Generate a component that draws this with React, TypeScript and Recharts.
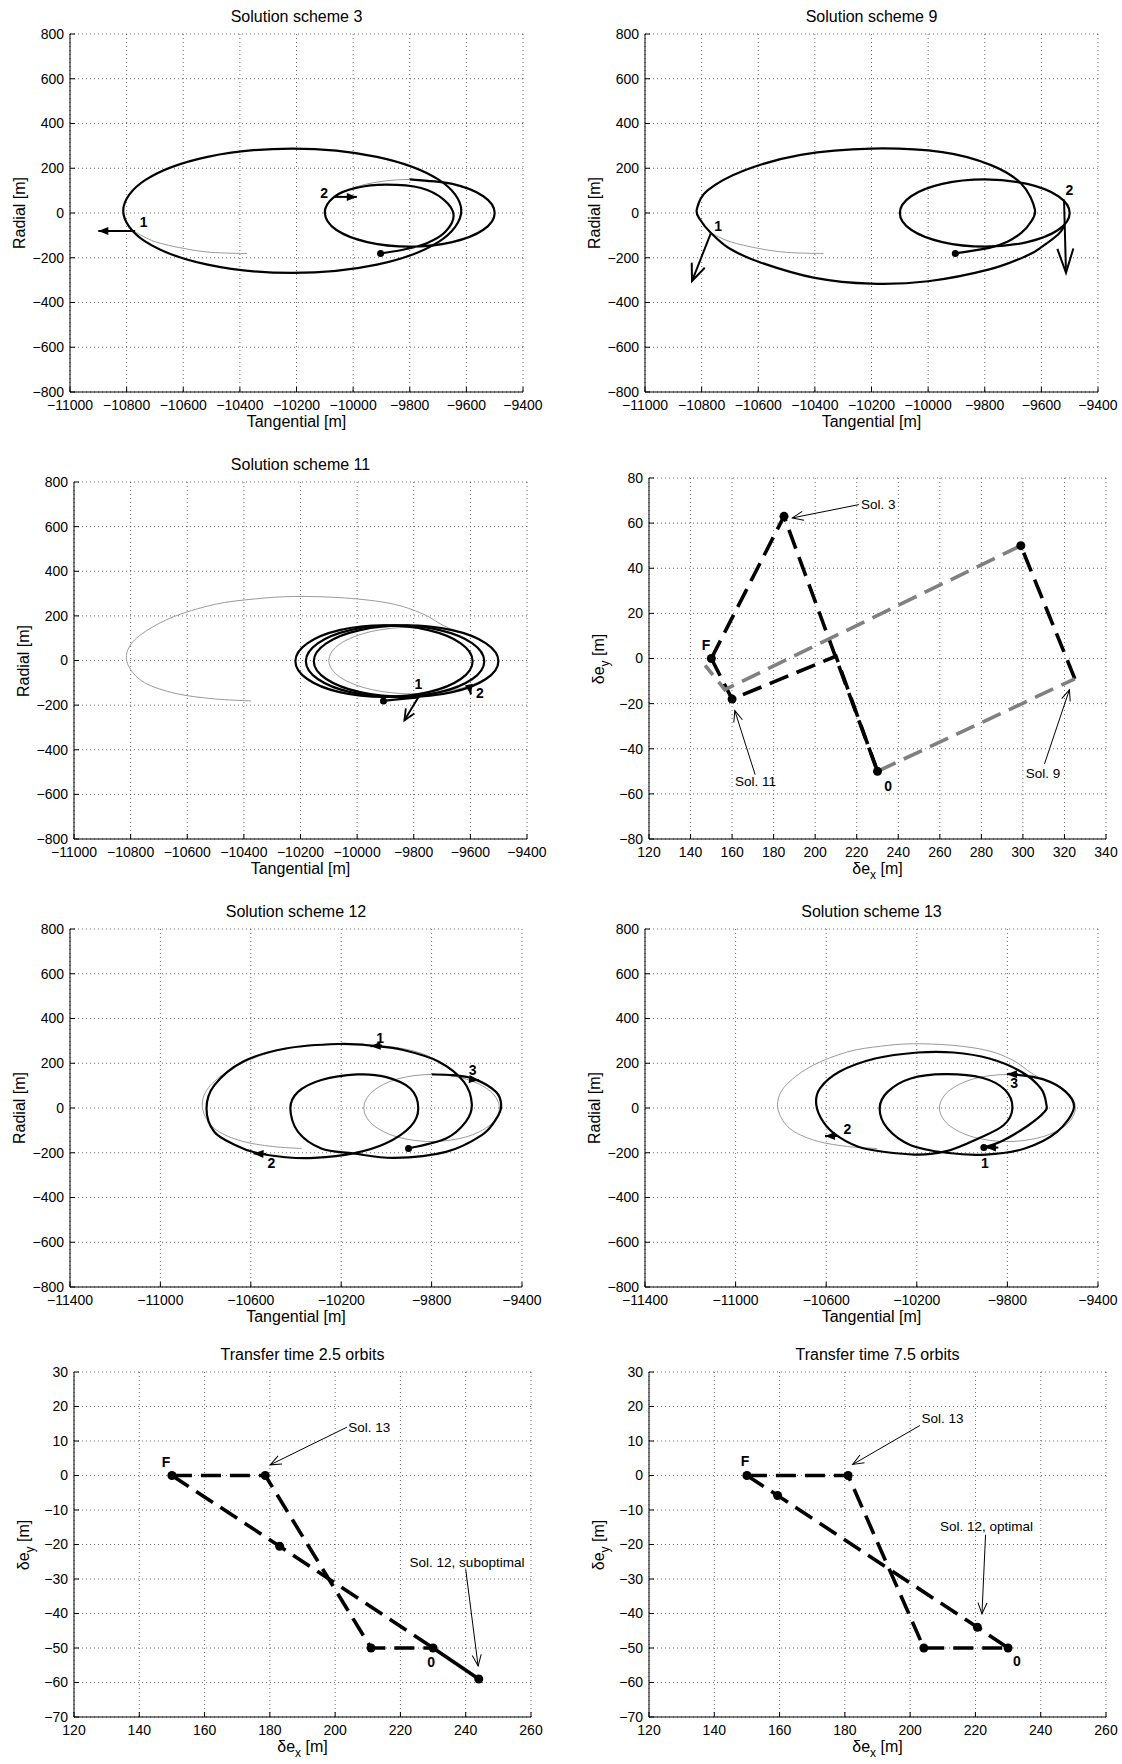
import React from 'react';
import { ComposedChart, Line, Scatter, XAxis, YAxis, CartesianGrid, ReferenceLine } from 'recharts';

type Pt = [number, number];

// ---------- axis ticks ----------
const TAN_TICKS_A = [-11000, -10800, -10600, -10400, -10200, -10000, -9800, -9600, -9400];
const TAN_TICKS_B = [-11400, -11000, -10600, -10200, -9800, -9400];
const RAD_TICKS = [-800, -600, -400, -200, 0, 200, 400, 600, 800];
const DEX_TICKS_A = [120, 140, 160, 180, 200, 220, 240, 260, 280, 300, 320, 340];
const DEY_TICKS_A = [-80, -60, -40, -20, 0, 20, 40, 60, 80];
const DEX_TICKS_B = [120, 140, 160, 180, 200, 220, 240, 260];
const DEY_TICKS_B = [-70, -60, -50, -40, -30, -20, -10, 0, 10, 20, 30];

// ---------- shared reference trajectories ----------
const TARGET_ELLIPSE: Pt[] = [[-9500, 0], [-9540, -75], [-9650, -130], [-9800, -150], [-9950, -130], [-10060, -75], [-10100, 0], [-10060, 75], [-9950, 130], [-9800, 150], [-9650, 130], [-9540, 75]];
const GRAY_BIG: Pt[] = [[-10375, -181], [-10505, -172], [-10640, -148], [-10750, -100], [-10805, -30], [-10812, 40], [-10770, 110], [-10660, 190], [-10505, 251], [-10360, 276], [-10220, 287], [-10040, 280], [-9880, 255], [-9770, 210], [-9700, 160], [-9650, 130]];

// ---------- Solution scheme 3 ----------
const P1_GRAY_ARC: Pt[] = [[-10770, -85], [-10700, -128], [-10600, -158], [-10500, -176], [-10375, -181]];
const P1_BIG_LOOP: Pt[] = [[-9618, 10], [-9698, 149], [-9916, 251], [-10215, 288], [-10514, 251], [-10732, 149], [-10812, 10], [-10732, -129], [-10514, -231], [-10215, -268], [-9916, -231], [-9698, -129]];
const P1_FINAL: Pt[] = [[-9800, 150], [-9650, 130], [-9540, 75], [-9500, 0], [-9540, -75], [-9650, -130], [-9800, -150], [-9950, -130], [-10060, -75], [-10100, 0], [-10067, 72], [-9990, 112], [-9884, 127], [-9760, 112], [-9680, 60], [-9645, -10], [-9675, -85], [-9740, -135], [-9820, -163], [-9903, -181]];
const P1_ARROWS: Pt[][] = [[[-10770, -80], [-10900, -80]], [[-10067, 72], [-9987, 72]]];
const P1_DOTS: Pt[] = [[-9903, -181]];
const P1_LABELS = [{ x: -10740, y: -41, t: '1' }, { x: -10102, y: 90, t: '2' }];

// ---------- Solution scheme 9 ----------
const P2_GRAY_ARC: Pt[] = [[-10767, -89], [-10700, -128], [-10600, -158], [-10500, -176], [-10370, -181]];
const P2_BIG: Pt[] = [[-9520, -59], [-9540, -95], [-9595, -148], [-9650, -190], [-9784, -252], [-10000, -305], [-10200, -316], [-10400, -290], [-10590, -222], [-10700, -160], [-10767, -89], [-10805, -30], [-10817, 16], [-10780, 100], [-10650, 190], [-10450, 260], [-10200, 288], [-9950, 272], [-9780, 215], [-9670, 130], [-9623, 16], [-9640, -45], [-9671, -89], [-9720, -128], [-9784, -156], [-9904, -181]];
const P2_ARROWS: Pt[][] = [[[-10767, -89], [-10834, -304]], [[-9520, 60], [-9513, -267]]];
const P2_DOTS: Pt[] = [[-9904, -181]];
const P2_LABELS = [{ x: -10742, y: -60, t: '1' }, { x: -9501, y: 102, t: '2' }];

// ---------- Solution scheme 11 ----------
const P3_LOOP_A: Pt[] = [[-9592, -3], [-9634, 77], [-9748, 136], [-9905, 157], [-10062, 136], [-10176, 77], [-10218, -3], [-10176, -83], [-10062, -142], [-9905, -163], [-9748, -142], [-9634, -83]];
const P3_LOOP_B: Pt[] = [[-9551, -3], [-9593, 77], [-9708, 136], [-9866, 157], [-10024, 136], [-10139, 77], [-10181, -3], [-10139, -83], [-10024, -142], [-9866, -163], [-9708, -142], [-9593, -83]];
const P3_LOOP_C: Pt[] = [[-9501, -3], [-9545, 77], [-9664, 136], [-9827, 157], [-9990, 136], [-10109, 77], [-10153, -3], [-10109, -83], [-9990, -142], [-9827, -163], [-9664, -142], [-9545, -83]];
const P3_START: Pt[] = [[-9907, -181], [-9840, -172], [-9781, -165]];
const P3_ARROWS: Pt[][] = [[[-9781, -159], [-9833, -268]], [[-9604, -117], [-9598, -152]]];
const P3_DOTS: Pt[] = [[-9907, -181]];
const P3_LABELS = [{ x: -9784, y: -107, t: '1' }, { x: -9566, y: -144, t: '2' }];

// ---------- Solution scheme 12 ----------
const P5_PATH: Pt[] = [[-9902, -181], [-9736, -136], [-9649, -62], [-9622, 16], [-9657, 117], [-9768, 207], [-9925, 259], [-10051, 277], [-10209, 286], [-10446, 266], [-10635, 207], [-10761, 102], [-10796, -2], [-10761, -107], [-10667, -166], [-10580, -199], [-10446, -220], [-10320, -223], [-10146, -203], [-10004, -159], [-9894, -84], [-9859, -2], [-9894, 87], [-10004, 139], [-10130, 150], [-10288, 125], [-10391, 72], [-10425, -2], [-10391, -107], [-10288, -181], [-10146, -203], [-9965, -223], [-9736, -196], [-9578, -121], [-9515, -50], [-9492, 10], [-9515, 72], [-9610, 129], [-9705, 147], [-9799, 150]];
const P5_ARROWS: Pt[][] = [[[-10020, 279], [-10070, 276]], [[-10533, -206], [-10588, -203]], [[-9629, 129], [-9590, 124]]];
const P5_DOTS: Pt[] = [[-9902, -181]];
const P5_LABELS = [{ x: -10028, y: 315, t: '1' }, { x: -10509, y: -248, t: '2' }, { x: -9618, y: 169, t: '3' }];

// ---------- Solution scheme 13 ----------
const P6_PATH: Pt[] = [[-9904, -177], [-9817, -144], [-9707, -77], [-9636, -17], [-9628, 16], [-9652, 87], [-9739, 162], [-9880, 221], [-10038, 248], [-10195, 248], [-10384, 221], [-10542, 162], [-10628, 87], [-10644, 16], [-10613, -62], [-10550, -125], [-10432, -181], [-10211, -208], [-10069, -193], [-9928, -136], [-9817, -77], [-9778, -2], [-9810, 80], [-9912, 135], [-10077, 151], [-10227, 132], [-10329, 72], [-10364, -2], [-10329, -92], [-10227, -166], [-10069, -200], [-9896, -208], [-9723, -181], [-9581, -107], [-9507, -2], [-9542, 72], [-9644, 129], [-9778, 151], [-9802, 151]];
const P6_ARROWS: Pt[][] = [[[-9840, -177], [-9895, -177]], [[-10550, -125], [-10605, -125]], [[-9754, 151], [-9802, 151]]];
const P6_DOTS: Pt[] = [[-9904, -177]];
const P6_LABELS = [{ x: -9899, y: -248, t: '1' }, { x: -10506, y: -92, t: '2' }, { x: -9770, y: 110, t: '3' }];

// ---------- delta-e plane, schemes 3 / 9 / 11 ----------
const P4_SOL3: Pt[] = [[150, 0], [185, 63], [230, -50]];
const P4_SOL11: Pt[] = [[230, -50], [210, 1], [160, -18], [150, 0]];
const P4_SOL9_GRAY_A: Pt[] = [[230, -50], [325, -9]];
const P4_SOL9_BLACK: Pt[] = [[325, -9], [299, 50]];
const P4_SOL9_GRAY_B: Pt[] = [[299, 50], [156.5, -13.8], [147, -3]];
const P4_DOTS: Pt[] = [[150, 0], [185, 63], [160, -18], [299, 50], [230, -50]];
const P4_NOTE_ARROWS: Pt[][] = [[[221, 68.2], [189, 62.3]], [[171.1, -51.5], [161.3, -23.1]], [[310.4, -46.7], [322.4, -13.8]]];
const P4_POINT_LABELS = [{ x: 147.4, y: 5.9, t: 'F' }, { x: 235.1, y: -56.5, t: '0' }];
const P4_NOTES = [{ x: 222, y: 68.2, t: 'Sol. 3', a: 'start' }, { x: 171.3, y: -54.4, t: 'Sol. 11', a: 'middle' }, { x: 309.7, y: -51, t: 'Sol. 9', a: 'middle' }];

// ---------- transfer time 2.5 orbits ----------
const P7_SOL13: Pt[] = [[150, 0], [178.6, 0], [211, -50], [230, -50]];
const P7_SOL12_DASH: Pt[] = [[150, 0], [183, -20.5], [230, -50]];
const P7_SOL12_SOLID: Pt[] = [[230, -50], [244, -59]];
const P7_DOTS: Pt[] = [[150, 0], [178.6, 0], [183, -20.5], [211, -50], [230, -50], [244, -59]];
const P7_NOTE_ARROWS: Pt[][] = [[[203.6, 14], [180.1, 3.1]], [[240, -27.2], [243.8, -55.2]]];
const P7_POINT_LABELS = [{ x: 148.2, y: 4.0, t: 'F' }, { x: 229.4, y: -54.1, t: '0' }];
const P7_NOTES = [{ x: 204, y: 14, t: 'Sol. 13', a: 'start' }, { x: 240.4, y: -25.3, t: 'Sol. 12, suboptimal', a: 'middle' }];

// ---------- transfer time 7.5 orbits ----------
const P8_SOL13: Pt[] = [[150, 0], [181, 0], [204.2, -50], [230, -50]];
const P8_SOL12: Pt[] = [[150, 0], [159.4, -5.8], [220.6, -44], [230, -50]];
const P8_DOTS: Pt[] = [[150, 0], [181, 0], [159.4, -5.8], [204.2, -50], [220.6, -44], [230, -50]];
const P8_NOTE_ARROWS: Pt[][] = [[[203, 14.5], [182.4, 3.2]], [[223.1, -17.2], [222, -40.1]]];
const P8_POINT_LABELS = [{ x: 149.4, y: 4.2, t: 'F' }, { x: 232.7, y: -53.9, t: '0' }];
const P8_NOTES = [{ x: 203.5, y: 16.5, t: 'Sol. 13', a: 'start' }, { x: 223.4, y: -14.9, t: 'Sol. 12, optimal', a: 'middle' }];

// ---------- helpers ----------
const FONT = "'Liberation Sans', Arial, Helvetica, sans-serif";
const toXY = (a: Pt[]) => a.map(([x, y]) => ({ x, y }));
const fmt = (v: number) => String(v).replace('-', '\u2212');

function catmull(closed: boolean) {
  return function (context: any) {
    let pts: number[][] = [];
    return {
      areaStart() {},
      areaEnd() {},
      lineStart() { pts = []; },
      point(x: number, y: number) { pts.push([+x, +y]); },
      lineEnd() {
        const n = pts.length;
        if (!n) return;
        context.moveTo(pts[0][0], pts[0][1]);
        if (n < 3) {
          for (let i = 1; i < n; i++) context.lineTo(pts[i][0], pts[i][1]);
          return;
        }
        const get = (i: number) => (closed ? pts[(i + n) % n] : pts[Math.max(0, Math.min(n - 1, i))]);
        const segs = closed ? n : n - 1;
        for (let i = 0; i < segs; i++) {
          const p0 = get(i - 1), p1 = get(i), p2 = get(i + 1), p3 = get(i + 2);
          context.bezierCurveTo(
            p1[0] + (p2[0] - p0[0]) / 6, p1[1] + (p2[1] - p0[1]) / 6,
            p2[0] - (p3[0] - p1[0]) / 6, p2[1] - (p3[1] - p1[1]) / 6,
            p2[0], p2[1]);
        }
        if (closed) context.closePath();
      },
    };
  };
}
const OPEN_CURVE = catmull(false);
const CLOSED_CURVE = catmull(true);

type Series = { pts: Pt[]; color: string; w: number; curve: 'open' | 'closed' | 'linear'; dash?: string };
type Arrow = { seg: Pt[]; w: number; head: string };
type Lab = { x: number; y: number; t: string; a?: string };

const GRAY = '#9a9a9a';
const TRAJ_W = 2.2;
const PAD_L = 60;
const PAD_R = 30;

type PanelProps = {
  rect: number[];
  xDom: number[]; xTicks: number[]; yDom: number[]; yTicks: number[];
  series: Series[]; arrows: Arrow[]; dots: Pt[]; dotR: number;
  pointLabels: Lab[]; notes?: Lab[];
  title?: string; xLabel: React.ReactNode; yLabel: React.ReactNode; xLabelDy: number;
};

function Panel(p: PanelProps) {
  const [L, T, R, B] = p.rect;
  const W = R - L + PAD_L + PAD_R;
  const H = B - T + 50;
  const dots = toXY(p.dots);
  return (
    <>
      {p.title && (
        <div style={{ position: 'absolute', left: L, width: R - L, top: T - 28, height: 22, lineHeight: '22px', textAlign: 'center', fontSize: 16 }}>{p.title}</div>
      )}
      <div style={{ position: 'absolute', left: L, width: R - L, top: B + p.xLabelDy - 11, height: 22, lineHeight: '22px', textAlign: 'center', fontSize: 16, whiteSpace: 'nowrap' }}>{p.xLabel}</div>
      <div style={{ position: 'absolute', left: L - 50 - 100, top: (T + B) / 2 - 11, width: 200, height: 22, lineHeight: '22px', textAlign: 'center', fontSize: 16, transform: 'rotate(-90deg)', whiteSpace: 'nowrap' }}>{p.yLabel}</div>
      <div style={{ position: 'absolute', left: L - PAD_L, top: T - 10 }}>
        <ComposedChart width={W} height={H} margin={{ top: 10, right: PAD_R, bottom: 0, left: 0 }}>
          <CartesianGrid stroke="#444" strokeDasharray="1 3" strokeWidth={0.8} />
          <XAxis type="number" dataKey="x" domain={p.xDom} ticks={p.xTicks} interval={0} allowDataOverflow height={40} tickSize={-5} tickMargin={13} tick={{ fontSize: 14, fill: '#000' }} tickFormatter={fmt} stroke="#000" />
          <XAxis xAxisId="t" orientation="top" type="number" dataKey="x" domain={p.xDom} ticks={p.xTicks} interval={0} allowDataOverflow height={0} tickSize={-5} tick={false} stroke="#000" />
          <YAxis type="number" dataKey="y" domain={p.yDom} ticks={p.yTicks} interval={0} allowDataOverflow width={PAD_L} tickSize={-5} tickMargin={11} tick={{ fontSize: 14, fill: '#000' }} tickFormatter={fmt} stroke="#000" />
          <YAxis yAxisId="r" orientation="right" type="number" dataKey="y" domain={p.yDom} ticks={p.yTicks} interval={0} allowDataOverflow width={0} tickSize={-5} tick={false} stroke="#000" />
          {p.series.map((s, i) => (
            <Line
              key={'s' + i}
              data={toXY(s.pts)}
              dataKey="y"
              type={(s.curve === 'open' ? OPEN_CURVE : s.curve === 'closed' ? CLOSED_CURVE : 'linear') as any}
              stroke={s.color}
              strokeWidth={s.w}
              strokeDasharray={s.dash}
              dot={false}
              activeDot={false}
              isAnimationActive={false}
            />
          ))}
          {p.arrows.map((a, i) => (
            <ReferenceLine
              key={'a' + i}
              segment={[{ x: a.seg[0][0], y: a.seg[0][1] }, { x: a.seg[1][0], y: a.seg[1][1] }]}
              ifOverflow="visible"
              shape={(q: any) => (
                <line x1={q.x1} y1={q.y1} x2={q.x2} y2={q.y2} stroke="#000" strokeWidth={a.w} markerEnd={`url(#${a.head})`} />
              )}
            />
          ))}
          <Scatter
            data={dots}
            dataKey="y"
            isAnimationActive={false}
            shape={(q: any) => <circle cx={q.cx} cy={q.cy} r={p.dotR} fill="#000" />}
          />
          <Scatter
            data={p.pointLabels}
            dataKey="y"
            isAnimationActive={false}
            shape={(q: any) => (
              <text x={q.cx} y={q.cy} textAnchor="middle" dominantBaseline="central" fontSize={14} fontWeight="bold" fill="#000" style={{ fontFamily: FONT }}>{q.payload.t}</text>
            )}
          />
          {p.notes && (
            <Scatter
              data={p.notes}
              dataKey="y"
              isAnimationActive={false}
              shape={(q: any) => (
                <text x={q.cx} y={q.cy} textAnchor={q.payload.a} dominantBaseline="central" fontSize={13.5} fill="#000" style={{ fontFamily: FONT }}>{q.payload.t}</text>
              )}
            />
          )}
        </ComposedChart>
      </div>
    </>
  );
}

const dexLabel = (
  <span>δe<span style={{ fontSize: 12, position: 'relative', top: 5 }}>x</span> [m]</span>
);
const deyLabel = (
  <span>δe<span style={{ fontSize: 12, position: 'relative', top: 5 }}>y</span> [m]</span>
);

const blk = (pts: Pt[], curve: 'open' | 'closed' | 'linear' = 'open'): Series => ({ pts, color: '#000', w: TRAJ_W, curve });
const gry = (pts: Pt[], curve: 'open' | 'closed' | 'linear' = 'open'): Series => ({ pts, color: GRAY, w: 1, curve });
const dashB = (pts: Pt[]): Series => ({ pts, color: '#000', w: 3.6, curve: 'linear', dash: '20 9' });
const dashG = (pts: Pt[]): Series => ({ pts, color: '#808080', w: 3.6, curve: 'linear', dash: '20 9' });
const arrows = (list: Pt[][], w: number, heads: string[]): Arrow[] => list.map((seg, i) => ({ seg, w, head: heads[i] || heads[0] }));

export default function App() {
  return (
    <div style={{ position: 'absolute', left: 0, top: 0, width: 1122, height: 1764, background: '#fff', fontFamily: FONT, color: '#000', overflow: 'hidden' }}>
      <svg width={0} height={0} style={{ position: 'absolute' }}>
        <defs>
          <marker id="ahS" markerWidth={14} markerHeight={12} refX={10} refY={4} orient="auto" markerUnits="userSpaceOnUse" style={{ overflow: 'visible' }}>
            <path d="M0,0 L10,4 L0,8 z" fill="#000" />
          </marker>
          <marker id="ahO" markerWidth={14} markerHeight={12} refX={11} refY={5} orient="auto" markerUnits="userSpaceOnUse" style={{ overflow: 'visible' }}>
            <path d="M0,0 L11,5 L0,10" fill="none" stroke="#000" strokeWidth={1.8} />
          </marker>
          <marker id="ahM" markerWidth={20} markerHeight={16} refX={17} refY={7} orient="auto" markerUnits="userSpaceOnUse" style={{ overflow: 'visible' }}>
            <path d="M0,0 L17,7 L0,14" fill="none" stroke="#000" strokeWidth={2} />
          </marker>
          <marker id="ahB" markerWidth={27} markerHeight={18} refX={24} refY={8} orient="auto" markerUnits="userSpaceOnUse" style={{ overflow: 'visible' }}>
            <path d="M0,0 L24,8 L0,16" fill="none" stroke="#000" strokeWidth={2} />
          </marker>
          <marker id="ahA" markerWidth={13} markerHeight={11} refX={11} refY={4.5} orient="auto" markerUnits="userSpaceOnUse" style={{ overflow: 'visible' }}>
            <path d="M0,0 L11,4.5 L0,9" fill="none" stroke="#000" strokeWidth={1} />
          </marker>
        </defs>
      </svg>

      <Panel
        rect={[70, 34, 523, 392]} xDom={[-11000, -9400]} xTicks={TAN_TICKS_A} yDom={[-800, 800]} yTicks={RAD_TICKS}
        title="Solution scheme 3" xLabel="Tangential [m]" yLabel="Radial [m]" xLabelDy={30}
        series={[gry(P1_GRAY_ARC), gry(TARGET_ELLIPSE, 'closed'), blk(P1_BIG_LOOP, 'closed'), blk(P1_FINAL)]}
        arrows={arrows(P1_ARROWS, 2, ['ahS'])} dots={P1_DOTS} dotR={3.5} pointLabels={P1_LABELS}
      />
      <Panel
        rect={[645, 34, 1098, 392]} xDom={[-11000, -9400]} xTicks={TAN_TICKS_A} yDom={[-800, 800]} yTicks={RAD_TICKS}
        title="Solution scheme 9" xLabel="Tangential [m]" yLabel="Radial [m]" xLabelDy={30}
        series={[gry(P2_GRAY_ARC), blk(TARGET_ELLIPSE, 'closed'), blk(P2_BIG)]}
        arrows={arrows(P2_ARROWS, 2, ['ahM', 'ahB'])} dots={P2_DOTS} dotR={3.5} pointLabels={P2_LABELS}
      />
      <Panel
        rect={[74, 482, 527, 839]} xDom={[-11000, -9400]} xTicks={TAN_TICKS_A} yDom={[-800, 800]} yTicks={RAD_TICKS}
        title="Solution scheme 11" xLabel="Tangential [m]" yLabel="Radial [m]" xLabelDy={30}
        series={[gry(GRAY_BIG), gry(TARGET_ELLIPSE, 'closed'), blk(P3_LOOP_A, 'closed'), blk(P3_LOOP_B, 'closed'), blk(P3_LOOP_C, 'closed'), blk(P3_START)]}
        arrows={arrows(P3_ARROWS, 2, ['ahO', 'ahS'])} dots={P3_DOTS} dotR={3.5} pointLabels={P3_LABELS}
      />
      <Panel
        rect={[649, 478, 1106, 839]} xDom={[120, 340]} xTicks={DEX_TICKS_A} yDom={[-80, 80]} yTicks={DEY_TICKS_A}
        xLabel={dexLabel} yLabel={deyLabel} xLabelDy={30}
        series={[dashB(P4_SOL3), dashB(P4_SOL11), dashB(P4_SOL9_BLACK), dashG(P4_SOL9_GRAY_A), dashG(P4_SOL9_GRAY_B)]}
        arrows={arrows(P4_NOTE_ARROWS, 1, ['ahA'])} dots={P4_DOTS} dotR={4.5} pointLabels={P4_POINT_LABELS} notes={P4_NOTES}
      />
      <Panel
        rect={[70, 929, 522, 1287]} xDom={[-11400, -9400]} xTicks={TAN_TICKS_B} yDom={[-800, 800]} yTicks={RAD_TICKS}
        title="Solution scheme 12" xLabel="Tangential [m]" yLabel="Radial [m]" xLabelDy={30}
        series={[gry(GRAY_BIG), gry(TARGET_ELLIPSE, 'closed'), blk(P5_PATH)]}
        arrows={arrows(P5_ARROWS, 2, ['ahS'])} dots={P5_DOTS} dotR={3.5} pointLabels={P5_LABELS}
      />
      <Panel
        rect={[645, 929, 1098, 1287]} xDom={[-11400, -9400]} xTicks={TAN_TICKS_B} yDom={[-800, 800]} yTicks={RAD_TICKS}
        title="Solution scheme 13" xLabel="Tangential [m]" yLabel="Radial [m]" xLabelDy={30}
        series={[gry(GRAY_BIG), gry(TARGET_ELLIPSE, 'closed'), blk(P6_PATH)]}
        arrows={arrows(P6_ARROWS, 2, ['ahS'])} dots={P6_DOTS} dotR={3.5} pointLabels={P6_LABELS}
      />
      <Panel
        rect={[74, 1372, 531, 1717]} xDom={[120, 260]} xTicks={DEX_TICKS_B} yDom={[-70, 30]} yTicks={DEY_TICKS_B}
        title="Transfer time 2.5 orbits" xLabel={dexLabel} yLabel={deyLabel} xLabelDy={30}
        series={[dashB(P7_SOL13), dashB(P7_SOL12_DASH), { pts: P7_SOL12_SOLID, color: '#000', w: 3.6, curve: 'linear' }]}
        arrows={arrows(P7_NOTE_ARROWS, 1, ['ahA'])} dots={P7_DOTS} dotR={4.5} pointLabels={P7_POINT_LABELS} notes={P7_NOTES}
      />
      <Panel
        rect={[649, 1372, 1106, 1717]} xDom={[120, 260]} xTicks={DEX_TICKS_B} yDom={[-70, 30]} yTicks={DEY_TICKS_B}
        title="Transfer time 7.5 orbits" xLabel={dexLabel} yLabel={deyLabel} xLabelDy={30}
        series={[dashB(P8_SOL13), dashB(P8_SOL12)]}
        arrows={arrows(P8_NOTE_ARROWS, 1, ['ahA'])} dots={P8_DOTS} dotR={4.5} pointLabels={P8_POINT_LABELS} notes={P8_NOTES}
      />
    </div>
  );
}
